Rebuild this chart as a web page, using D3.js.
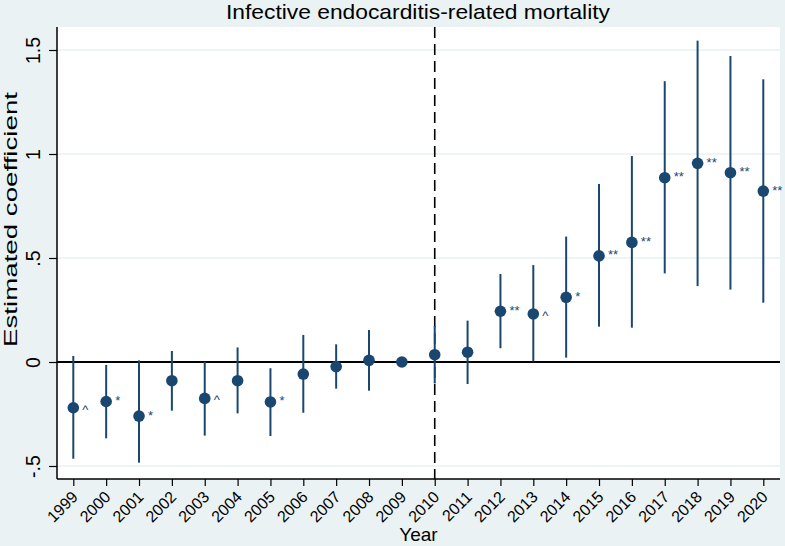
<!DOCTYPE html>
<html><head><meta charset="utf-8">
<script src="https://cdn.jsdelivr.net/npm/d3@7"></script>
<style>body{margin:0;background:#eaf2f3;} svg{display:block;font-family:"Liberation Sans",Arial,sans-serif;}</style>
</head><body>
<script>
const years = [1999,2000,2001,2002,2003,2004,2005,2006,2007,2008,2009,2010,2011,2012,2013,2014,2015,2016,2017,2018,2019,2020];
const coef  = [-0.22,-0.19,-0.26,-0.09,-0.175,-0.09,-0.192,-0.058,-0.022,0.008,0,0.035,0.047,0.244,0.231,0.311,0.51,0.575,0.886,0.955,0.91,0.822];
const ciLow = [-0.465,-0.367,-0.484,-0.234,-0.354,-0.247,-0.356,-0.244,-0.128,-0.138,0,-0.103,-0.106,0.066,0.002,0.021,0.17,0.165,0.426,0.365,0.348,0.285];
const ciHigh= [0.029,-0.014,0.008,0.053,0.002,0.07,-0.03,0.13,0.085,0.154,0,0.173,0.199,0.423,0.466,0.603,0.856,0.99,1.35,1.545,1.471,1.359];
const sig   = ["^","*","*","","^","","*","","","","","","","**","^","*","**","**","**","**","**","**"];
const yTicks = [-0.5,0,0.5,1,1.5];
const yTickLabels = ["-.5","0",".5","1","1.5"];
const policyYear = 2010;

const W=785,H=546;
const svg=d3.select("body").append("svg").attr("width",W).attr("height",H);
svg.append("rect").attr("width",W).attr("height",H).attr("fill","#eaf2f3");
const L=57,R=780,T=27,B=479;
svg.append("rect").attr("x",L).attr("y",T).attr("width",R-L).attr("height",B-T).attr("fill","#fff");

const x=d3.scaleLinear().domain([1999,2020]).range([73.3,763.3]);
const y=d3.scaleLinear().domain([0,1.5]).range([362,50]);
const navy="#1a476f";

// gridlines
svg.append("g").selectAll("line").data(yTicks.filter(v=>v!==0)).join("line")
  .attr("x1",L).attr("x2",R).attr("y1",d=>y(d)).attr("y2",d=>y(d))
  .attr("stroke","#eaf2f3").attr("stroke-width",1.5);
// zero line
svg.append("line").attr("x1",L).attr("x2",R).attr("y1",y(0)).attr("y2",y(0)).attr("stroke","#000").attr("stroke-width",1.8);
// dashed policy line
svg.append("line").attr("x1",x(policyYear)).attr("x2",x(policyYear)).attr("y1",T).attr("y2",B)
  .attr("stroke","#000").attr("stroke-width",1.6).attr("stroke-dasharray","11,6");

// axes
const yAxis=d3.axisLeft(y).tickValues(yTicks).tickFormat((d,i)=>yTickLabels[i]).tickSize(8).tickPadding(4);
const gy=svg.append("g").attr("transform",`translate(${L},0)`).call(yAxis);
gy.select(".domain").attr("d",`M0,${T}V${B}`).attr("stroke","#000").attr("stroke-width",1.5);
gy.selectAll(".tick line").attr("stroke","#000").attr("stroke-width",1.2);
gy.selectAll(".tick text").attr("font-size",19.5).attr("fill","#000").attr("font-family","Liberation Sans, Arial, sans-serif")
  .attr("text-anchor","middle").attr("x",0).attr("dy",0).attr("y",6)
  .attr("transform","translate(-23,0) rotate(-90)");

const xAxis=d3.axisBottom(x).tickValues(years).tickFormat(d3.format("d")).tickSize(7).tickPadding(2);
const gx=svg.append("g").attr("transform",`translate(0,${B})`).call(xAxis);
gx.select(".domain").attr("d",`M${L},0H${R}`).attr("stroke","#000").attr("stroke-width",1.5);
gx.selectAll(".tick line").attr("stroke","#000").attr("stroke-width",1.2);
gx.selectAll(".tick text").attr("font-size",16).attr("fill","#000").attr("font-family","Liberation Sans, Arial, sans-serif")
  .attr("text-anchor","end").attr("y",0).attr("dy",0)
  .attr("transform","translate(5,19) rotate(-45)");

// CIs
const data=years.map((yr,i)=>({yr,c:coef[i],lo:ciLow[i],hi:ciHigh[i],s:sig[i]}));
svg.append("g").selectAll("line").data(data.filter(d=>d.hi!==d.lo)).join("line")
  .attr("x1",d=>x(d.yr)).attr("x2",d=>x(d.yr)).attr("y1",d=>y(d.lo)).attr("y2",d=>y(d.hi))
  .attr("stroke",navy).attr("stroke-width",2);
svg.append("g").selectAll("circle").data(data).join("circle")
  .attr("cx",d=>x(d.yr)).attr("cy",d=>y(d.c)).attr("r",5.8).attr("fill",navy);
svg.append("g").selectAll("text").data(data.filter(d=>d.s)).join("text")
  .attr("x",d=>x(d.yr)+9).attr("y",d=>y(d.c)+(d.s==="^"?6:3.5)).attr("font-size",13)
  .attr("fill",navy).text(d=>d.s);

// titles
svg.append("text").attr("x",418).attr("y",18.5).attr("text-anchor","middle").attr("font-size",21)
  .attr("textLength",384).attr("lengthAdjust","spacingAndGlyphs").attr("fill","#000")
  .text("Infective endocarditis-related mortality");
svg.append("text").attr("x",418.5).attr("y",541).attr("text-anchor","middle").attr("font-size",19).attr("fill","#000").text("Year");
svg.append("text").attr("transform","translate(17,219.5) rotate(-90)").attr("text-anchor","middle").attr("font-size",18.5)
  .attr("textLength",255).attr("lengthAdjust","spacingAndGlyphs").attr("fill","#000")
  .text("Estimated coefficient");
</script>
</body></html>
